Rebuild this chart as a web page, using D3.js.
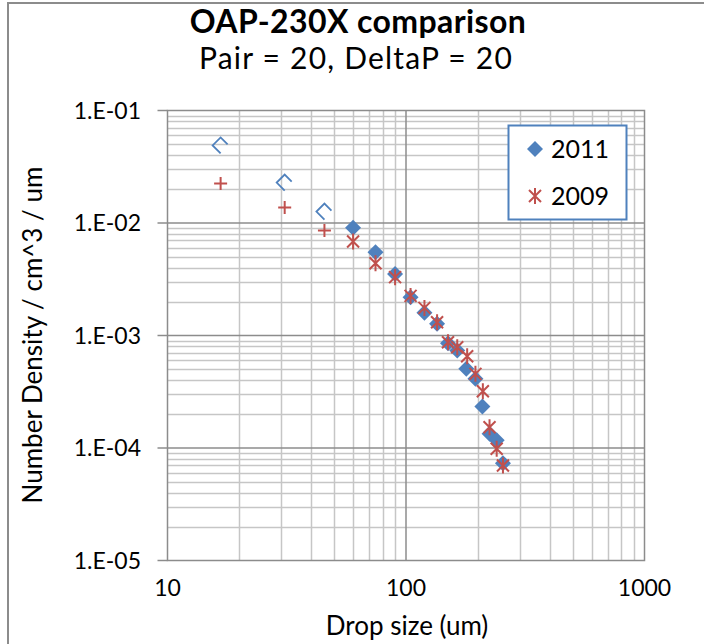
<!DOCTYPE html>
<html lang="en">
<meta charset="utf-8">
<style>
body {
  margin: 0;
  font-family: Lato, 'Open Sans', sans-serif;
  background: #fff;
}
.minor { stroke: #c6c6c6; stroke-width: 1.5px; }
.major { stroke: #8c8c8c; stroke-width: 1.5px; }
.axisline { stroke: #8c8c8c; stroke-width: 1.5px; fill: none; }
</style>
<body>
<div id="chart"></div>
<script src="https://d3js.org/d3.v7.min.js"></script>
<script>

// drop size bins (um) and number densities
var dropSize = [16.7, 31, 45.5, 60, 74.5, 90, 104.5, 119.5, 135, 150, 164, 179, 195.5, 209, 224, 240, 255];
var dropSize09 = [16.7, 31, 45.5, 60, 74.5, 90, 104.5, 119.5, 135, 150, 164, 180.5, 195.5, 210, 224, 240, 255];
var density2011 = [0.0489, 0.0229, 0.01265, 0.00906, 0.0055, 0.00353, 0.00219, 0.00159, 0.00127, 0.000855,
                   0.000736, 0.000506, 0.000412, 0.000234, 0.000134, 0.000117, 0.0000733];
var density2009 = [0.0224, 0.01374, 0.00858, 0.00685, 0.00439, 0.0033, 0.00225, 0.00176, 0.00131, 0.00087,
                   0.000787, 0.000655, 0.000456, 0.00032, 0.000153, 0.0000984, 0.0000699];
var seriesNames = ["2011", "2009"];
var xTicks = [10, 100, 1000];
var yTicks = [1e-1, 1e-2, 1e-3, 1e-4, 1e-5];
var yTickLabels = ["1.E-01", "1.E-02", "1.E-03", "1.E-04", "1.E-05"];

var width = 704, height = 644;
var blue = "#4f81bd", red = "#c0504d";

// plot area edges (px)
var pLeft = 167.5, pRight = 644.5, pTop = 110.5, pBottom = 560.5;

var svg = d3.select("#chart").append("svg")
    .attr("width", width)
    .attr("height", height);

// outer chart frame
svg.append("rect")
    .attr("x", 8).attr("y", 3)
    .attr("width", 700).attr("height", 650)
    .attr("fill", "none")
    .attr("stroke", "#8c8c8c")
    .attr("stroke-width", 2);

var x = d3.scaleLog().domain([10, 1000]).range([pLeft, pRight]);
var y = d3.scaleLog().domain([1e-5, 1e-1]).range([pBottom, pTop]);

// minor + major gridlines
var xMinor = [], yMinor = [];
[10, 100].forEach(function(d) { for (var k = 2; k <= 9; k++) xMinor.push(d * k); });
[1e-5, 1e-4, 1e-3, 1e-2].forEach(function(d) { for (var k = 2; k <= 9; k++) yMinor.push(d * k); });

var grid = svg.append("g");
grid.selectAll(".vx").data(xMinor).enter().append("line")
    .attr("class", "minor")
    .attr("x1", d => Math.round(x(d)) + 0.5).attr("x2", d => Math.round(x(d)) + 0.5)
    .attr("y1", pTop).attr("y2", pBottom);
grid.selectAll(".hy").data(yMinor).enter().append("line")
    .attr("class", "minor")
    .attr("y1", d => Math.round(y(d)) + 0.5).attr("y2", d => Math.round(y(d)) + 0.5)
    .attr("x1", pLeft).attr("x2", pRight);
grid.selectAll(".vmaj").data([100]).enter().append("line")
    .attr("class", "major")
    .attr("x1", d => x(d)).attr("x2", d => x(d))
    .attr("y1", pTop).attr("y2", pBottom);
grid.selectAll(".hmaj").data([1e-2, 1e-3, 1e-4]).enter().append("line")
    .attr("class", "major")
    .attr("y1", d => y(d)).attr("y2", d => y(d))
    .attr("x1", pLeft).attr("x2", pRight);

// plot frame
svg.append("rect")
    .attr("class", "axisline")
    .attr("x", pLeft).attr("y", pTop)
    .attr("width", pRight - pLeft).attr("height", pBottom - pTop);

// y ticks + labels
svg.selectAll(".ytick").data(yTicks).enter().append("line")
    .attr("class", "axisline")
    .attr("x1", pLeft - 10).attr("x2", pLeft)
    .attr("y1", d => y(d)).attr("y2", d => y(d));
svg.selectAll(".ylab").data(yTicks).enter().append("text")
    .attr("x", 141).attr("y", d => y(d))
    .attr("dy", "0.35em")
    .attr("text-anchor", "end")
    .style("font-size", "23px")
    .text((d, i) => yTickLabels[i]);

// x labels
svg.selectAll(".xlab").data(xTicks).enter().append("text")
    .attr("x", d => x(d)).attr("y", 596)
    .attr("text-anchor", "middle")
    .style("font-size", "23px")
    .text(d => d);

// axis titles
svg.append("text")
    .attr("x", 407).attr("y", 635)
    .attr("text-anchor", "middle")
    .style("font-size", "26px")
    .text("Drop size (um)");
svg.append("text")
    .attr("transform", "translate(42,335) rotate(-90)")
    .attr("text-anchor", "middle")
    .style("font-size", "26px")
    .text("Number Density / cm^3 / um");

// title
svg.append("text")
    .attr("x", 358).attr("y", 33)
    .attr("text-anchor", "middle")
    .style("font-size", "32px").style("font-weight", "bold")
    .style("letter-spacing", "0.4px")
    .text("OAP-230X comparison");
svg.append("text")
    .attr("x", 356).attr("y", 69)
    .attr("text-anchor", "middle")
    .style("font-size", "30px")
    .style("letter-spacing", "1.2px")
    .text("Pair = 20, DeltaP = 20");

// marker shapes
var diamond = "M0,-8L8,0L0,8L-8,0Z";
var openDiamond = "M0,8L-8,0L0,-8L7,-1";   // clipped look of the first points
var asterisk = "M-6,-6L6,6M-6,6L6,-6M0,-8L0,8";
var plus = "M-6.5,0L6.5,0M0,-6.5L0,6.5";

var pts11 = dropSize.map((d, i) => ({x: d, y: density2011[i], i: i}));
var pts09 = dropSize09.map((d, i) => ({x: d, y: density2009[i], i: i}));

svg.append("g").selectAll("path").data(pts11).enter().append("path")
    .attr("transform", d => "translate(" + x(d.x) + "," + y(d.y) + ")")
    .attr("d", d => d.i < 3 ? openDiamond : diamond)
    .attr("fill", d => d.i < 3 ? "none" : blue)
    .attr("stroke", blue)
    .attr("stroke-width", d => d.i < 3 ? 1.8 : 0);

svg.append("g").selectAll("path").data(pts09).enter().append("path")
    .attr("transform", d => "translate(" + x(d.x) + "," + y(d.y) + ")")
    .attr("d", d => d.i < 3 ? plus : asterisk)
    .attr("fill", "none")
    .attr("stroke", red)
    .attr("stroke-width", 2);

// legend
var lg = svg.append("g");
lg.append("rect")
    .attr("x", 508.5).attr("y", 125.5)
    .attr("width", 118).attr("height", 94)
    .attr("fill", "#fff")
    .attr("stroke", blue)
    .attr("stroke-width", 2);
lg.append("path").attr("transform", "translate(535,149)").attr("d", diamond).attr("fill", blue);
lg.append("path").attr("transform", "translate(535,196)").attr("d", asterisk)
    .attr("fill", "none").attr("stroke", red).attr("stroke-width", 2);
lg.selectAll("text").data(seriesNames).enter().append("text")
    .attr("x", 551).attr("y", (d, i) => 149 + i * 47)
    .attr("dy", "0.36em")
    .style("font-size", "25px")
    .text(d => d);

</script>
</body>
</html>
